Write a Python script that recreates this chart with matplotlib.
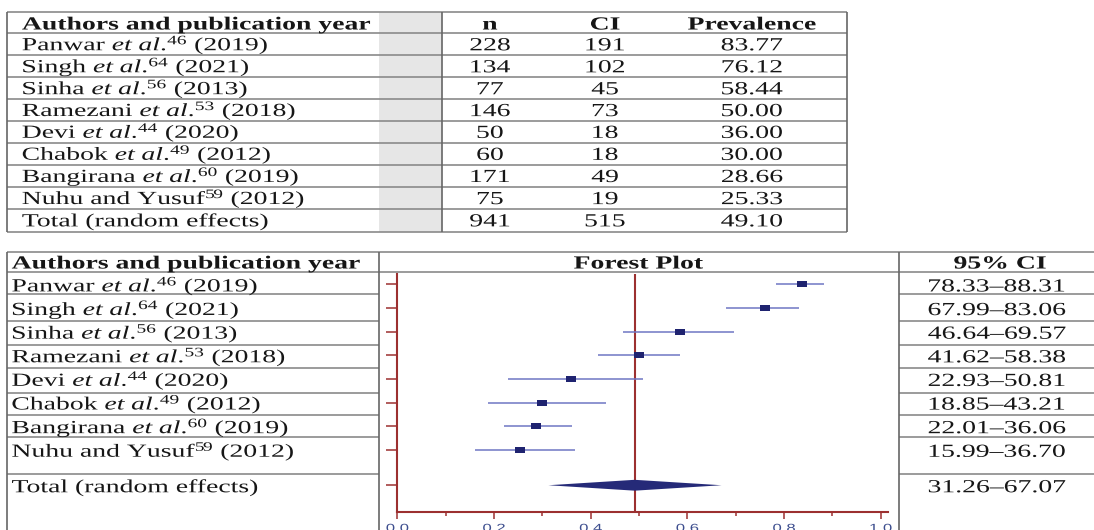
import matplotlib
matplotlib.use("Agg")
import matplotlib.pyplot as plt
from matplotlib.patches import Rectangle
from matplotlib.patheffects import AbstractPathEffect
from matplotlib.transforms import Affine2D, blended_transform_factory, offset_copy

# studies in the meta-analysis
authors = ["Panwar", "Singh", "Sinha", "Ramezani", "Devi", "Chabok", "Bangirana", "Nuhu and Yusuf"]
refs = [46, 64, 56, 53, 44, 49, 60, 59]
years = [2019, 2021, 2013, 2018, 2020, 2012, 2019, 2012]
et_al = [True, True, True, True, True, True, True, False]
n_total = [228, 134, 77, 146, 50, 60, 171, 75]
n_ci = [191, 102, 45, 73, 18, 18, 49, 19]
prevalence = [83.77, 76.12, 58.44, 50.00, 36.00, 30.00, 28.66, 25.33]
ci_low = [78.33, 67.99, 46.64, 41.62, 22.93, 18.85, 22.01, 15.99]
ci_high = [88.31, 83.06, 69.57, 58.38, 50.81, 43.21, 36.06, 36.70]

# pooled estimate
pooled_label = "Total (random effects)"
pooled_n = 941
pooled_ci_n = 515
pooled_prev = 49.10
pooled_low = 31.26
pooled_high = 67.07

x_ticks = [0.0, 0.2, 0.4, 0.6, 0.8, 1.0]
x_minor = [0.1, 0.3, 0.5, 0.7, 0.9]

plt.rcParams["font.family"] = "Liberation Serif"
plt.rcParams["mathtext.fontset"] = "custom"
plt.rcParams["mathtext.rm"] = "Liberation Serif"
plt.rcParams["mathtext.it"] = "Liberation Serif:italic"
plt.rcParams["mathtext.bf"] = "Liberation Serif:bold"

INK = "#161616"
GRID = "#8a8a8a"
EDGE = "#666666"
AXC = "#9c3030"
NAVY = "#1f2370"
CI_BLUE = "#6f77c4"


class Stretch(AbstractPathEffect):
    """Draw glyphs widened horizontally around their left edge or centre."""

    def __init__(self, sx=1.5, ha="left"):
        super().__init__()
        self.sx = sx
        self.ha = ha

    def draw_path(self, renderer, gc, tpath, affine, rgbFace=None):
        box = tpath.get_extents(affine)
        x0 = box.x0 if self.ha == "left" else 0.5 * (box.x0 + box.x1)
        wide = affine + Affine2D().translate(-x0, 0).scale(self.sx, 1).translate(x0, 0)
        renderer.draw_path(gc, tpath, wide, rgbFace)


def study_label(i):
    if et_al[i]:
        return rf"{authors[i]} $\mathit{{et\ al}}$.$^{{{refs[i]}}}$ ({years[i]})"
    return rf"{authors[i]}$^{{{refs[i]}}}$ ({years[i]})"


labels = [study_label(i) for i in range(len(authors))] + [pooled_label]
col_n = [str(v) for v in n_total] + [str(pooled_n)]
col_ci = [str(v) for v in n_ci] + [str(pooled_ci_n)]
col_prev = [f"{v:.2f}" for v in prevalence] + [f"{pooled_prev:.2f}"]
col_range = [f"{lo:.2f}\u2013{hi:.2f}" for lo, hi in zip(ci_low, ci_high)]
col_range.append(f"{pooled_low:.2f}\u2013{pooled_high:.2f}")

fig = plt.figure(figsize=(10.94, 5.30), dpi=100)
bg = fig.add_axes([0, 0, 1, 1])
bg.set_xlim(0, 1094)
bg.set_ylim(530, 0)
bg.axis("off")


def put(x, y, s, ha="left", bold=False, transform=None):
    bg.text(x, y, s, ha=ha, va="baseline", fontsize=13.3, color=INK,
            fontweight="bold" if bold else "normal",
            transform=transform if transform is not None else bg.transData,
            path_effects=[Stretch(1.5, ha)])


# ---- upper table: sample size, cases and prevalence ----
rows_top = [12, 33.3, 55.3, 77.3, 99.2, 121, 142.8, 165, 187, 209.2, 231.5]
bg.add_patch(Rectangle((379, rows_top[0]), 62.7, rows_top[-1] - rows_top[0],
                       facecolor="#e6e6e6", edgecolor="none", zorder=0))
bg.hlines(rows_top, 7.3, 846.7, color=GRID, lw=1.2)
bg.vlines([7.3, 441.7, 846.7], rows_top[0], rows_top[-1], color=EDGE, lw=1.2)

put(22, 29.5, "Authors and publication year", bold=True)
put(490, 29.5, "n", ha="center", bold=True)
put(605, 29.5, "CI", ha="center", bold=True)
put(752, 29.5, "Prevalence", ha="center", bold=True)
for i, lab in enumerate(labels):
    base = 0.5 * (rows_top[i + 1] + rows_top[i + 2]) + 6
    put(22, base, lab)
    put(490, base, col_n[i], ha="center")
    put(605, base, col_ci[i], ha="center")
    put(752, base, col_prev[i], ha="center")

# ---- lower table with forest plot ----
rows_bot = [294, 320.5, 344.5, 367.5, 392.5, 415, 436.7, 474.3]
bg.hlines([251.5, 272.3], 7.3, 1094, color=GRID, lw=1.2)
bg.hlines(rows_bot, 7.3, 379.3, color=GRID, lw=1.2)
bg.hlines(rows_bot, 898.5, 1094, color=GRID, lw=1.2)
bg.vlines([7.3, 379.3, 898.5], 251.5, 530, color=EDGE, lw=1.2)

put(11.7, 268.5, "Authors and publication year", bold=True)
put(638.6, 268.5, "Forest Plot", ha="center", bold=True)
put(1000, 268.5, "95% CI", ha="center", bold=True)

fax = fig.add_axes([397.3 / 1094, 18.3 / 530, 491 / 1094, 237.4 / 530])
ypos = list(range(len(authors))) + [8.5]
fax.set_xlim(0, 1.0157)
fax.set_ylim(9.62, -0.43)

fax.axvline(pooled_prev / 100, color=AXC, lw=1.5, zorder=1)
fax.hlines(ypos[:-1], [v / 100 for v in ci_low], [v / 100 for v in ci_high],
           color=CI_BLUE, lw=1.1, zorder=2)
box_marker = [(-1, -0.55), (1, -0.55), (1, 0.55), (-1, 0.55), (-1, -0.55)]
fax.plot([v / 100 for v in prevalence], ypos[:-1], ls="none", marker=box_marker,
         ms=6.9, mew=0, color=NAVY, zorder=3)
yp = ypos[-1]
fax.fill([pooled_low / 100, pooled_prev / 100, pooled_high / 100, pooled_prev / 100],
         [yp, yp - 0.23, yp, yp + 0.23], color="#252a78", lw=0, zorder=3)

for side in ["top", "right"]:
    fax.spines[side].set_visible(False)
for side in ["left", "bottom"]:
    fax.spines[side].set_color(AXC)
    fax.spines[side].set_linewidth(1.5)
fax.set_facecolor("none")

fax.set_yticks(ypos)
fax.set_yticklabels([])
fax.tick_params(axis="y", length=8, width=1.1, color=AXC, direction="out")
fax.set_xticks(x_ticks)
fax.set_xticklabels([f"{v:.1f}" for v in x_ticks])
fax.set_xticks(x_minor, minor=True)
fax.tick_params(axis="x", which="major", length=5, width=1.1, color=AXC,
                labelsize=8, labelcolor="#3e4f8f", pad=3.5)
fax.tick_params(axis="x", which="minor", length=3, width=1.1, color=AXC)
for lbl in fax.get_xticklabels():
    lbl.set_fontfamily("Liberation Sans")
    lbl.set_path_effects([Stretch(1.5, "center")])

# row labels and intervals follow the forest plot rows
row_tr = offset_copy(blended_transform_factory(bg.transData, fax.transData),
                     fig=fig, y=-7, units="dots")
for y, lab, rng in zip(ypos, labels, col_range):
    put(11.7, y, lab, transform=row_tr)
    put(997, y, rng, ha="center", transform=row_tr)

fig.savefig("out.png", dpi=100)
